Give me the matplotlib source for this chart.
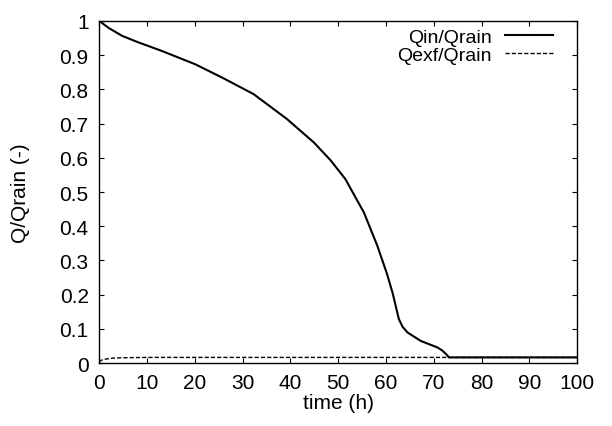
import matplotlib
matplotlib.use("Agg")
import matplotlib.pyplot as plt
from matplotlib.ticker import FormatStrFormatter

plt.rcParams['font.family'] = ['Liberation Sans', 'DejaVu Sans']

# values
t_in = [0, 2.0, 4.8, 8.2, 13.1, 20.1, 25.6, 32.3, 39.3, 44.9, 48.4, 51.5, 55.4,
        58.2, 60.2, 61.4, 62.7, 63.5, 64.5, 67.3, 70.8, 71.8, 72.5, 73.2, 80, 90, 100]
q_in = [1.0, 0.979, 0.956, 0.937, 0.912, 0.873, 0.835, 0.786, 0.713, 0.645, 0.593,
        0.538, 0.440, 0.343, 0.262, 0.205, 0.129, 0.106, 0.090, 0.065, 0.046, 0.037,
        0.028, 0.017, 0.017, 0.017, 0.017]

t_exf = [0, 0.5, 1.3, 3, 5, 10, 50, 100]
q_exf = [0.004, 0.009, 0.012, 0.015, 0.016, 0.017, 0.017, 0.017]

fs = 15

fig = plt.figure(figsize=(6.12, 4.27), dpi=100)
ax = fig.add_axes([0.162, 0.147, 0.781, 0.802])

ax.plot(t_exf, q_exf, color='black', lw=1.0, ls=(0, (3, 1.5)), label='Qexf/Qrain')
ax.plot(t_in, q_in, color='black', lw=1.5, label='Qin/Qrain')

ax.set_xlim(0, 100)
ax.set_ylim(0, 1)
ax.set_xticks(range(0, 101, 10))
ax.set_yticks([i / 10 for i in range(11)])
ax.yaxis.set_major_formatter(FormatStrFormatter('%g'))
ax.tick_params(direction='in', top=True, right=True, labelsize=fs, length=3.8, width=0.8)
ax.tick_params(axis='x', pad=7)
ax.tick_params(axis='y', pad=7.5)
for s in ax.spines.values():
    s.set_linewidth(1.0)

ax.set_xlabel('time (h)', fontsize=fs)
ax.set_ylabel('Q/Qrain (-)', fontsize=fs)
ax.xaxis.set_label_coords(0.5, -0.088)
ax.yaxis.set_label_coords(-0.144, 0.5)

h, l = ax.get_legend_handles_labels()
leg = ax.legend(h[::-1], l[::-1], loc='upper right', frameon=False, markerfirst=False,
                fontsize=14, handlelength=2.5, labelspacing=0.0, borderaxespad=0,
                borderpad=0, handletextpad=0.65, bbox_to_anchor=(0.950, 0.977))

fig.savefig('out.png', dpi=100)
